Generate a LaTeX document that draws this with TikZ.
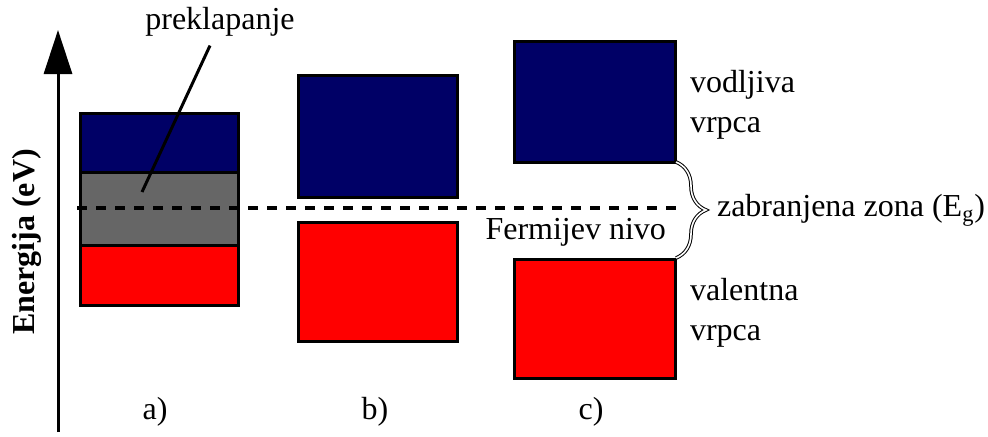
\documentclass[tikz,border=0pt]{standalone}
\usepackage{fontspec}
\setmainfont{Liberation Serif}
\usetikzlibrary{arrows.meta,decorations.pathreplacing}
\definecolor{vodljivaboja}{RGB}{0,0,102}
\definecolor{valentnaboja}{RGB}{255,0,0}
\definecolor{preklopboja}{RGB}{102,102,102}

\begin{document}
\begin{tikzpicture}[x=.5pt,y=-.5pt,font=\fontsize{16}{20}\selectfont,
	vrpca/.style={draw,line width=1.5pt},
	oznaka/.style={anchor=west,align=left}]
	\useasboundingbox (0,0) rectangle (988,436);
	% os energije
	\draw[line width=1.5pt,-{Triangle[length=22pt,width=14pt]}] (58,432) -- (58,30);
	\node[rotate=90,font=\fontsize{16}{20}\selectfont\bfseries] (energija) at (27,242) {Energija (eV)};
	
	% a) metal
	\draw[vrpca,fill=vodljivaboja] (80,113) rectangle (238,172);
	\draw[vrpca,fill=preklopboja] (80,172) rectangle (238,245);
	\draw[vrpca,fill=valentnaboja] (80,245) rectangle (238,305);
	\node (a) at (155,412) {a)};
	
	% b) poluvodic
	\draw[vrpca,fill=vodljivaboja] (298,75) rectangle (457,197);
	\draw[vrpca,fill=valentnaboja] (298,222) rectangle (457,341);
	\node (b) at (375,412) {b)};
	
	% c) izolator
	\draw[vrpca,fill=vodljivaboja] (514,41) rectangle (675,162);
	\draw[vrpca,fill=valentnaboja] (514,259) rectangle (675,378);
	\node (c) at (591,412) {c)};
	
	% Fermijev nivo
	\draw[line width=2.4pt,dash pattern=on 4.75pt off 4.75pt] (77,208) -- (684,208);
	\node[anchor=east] (fermi) at (673,232) {Fermijev nivo};
	
	% zabranjena zona
	\draw[decorate,decoration={brace,amplitude=15pt},line width=.5pt,double,double distance=.8pt] (676,162) -- (676,258);
	\node[anchor=west] (zona) at (710,210) {zabranjena zona (E\textsubscript{g})};
	
	\node[oznaka] (vodljiva) at (683,105) {vodljiva\\vrpca};
	\node[oznaka] (valentna) at (683,313) {valentna\\vrpca};
	
	% preklapanje
	\node (preklapanje) at (220,22) {preklapanje};
	\coordinate (preklop) at (142,192);
	\draw[line width=1.5pt] (preklop) -- ([xshift=-5pt,yshift=-1pt]preklapanje.south);
\end{tikzpicture}
\end{document}
